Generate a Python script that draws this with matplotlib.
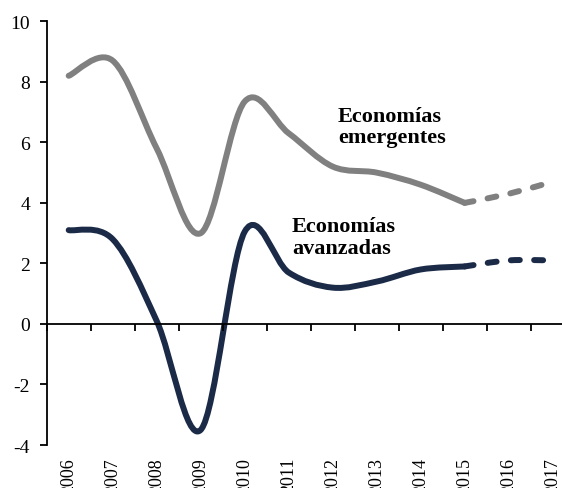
import numpy as np
import matplotlib
matplotlib.use('Agg')
import matplotlib.pyplot as plt
from matplotlib.path import Path
from matplotlib.patches import PathPatch
from matplotlib.transforms import blended_transform_factory

plt.rcParams['font.family'] = 'serif'
plt.rcParams['font.serif'] = ['Liberation Serif', 'Times New Roman', 'DejaVu Serif']
plt.rcParams['axes.unicode_minus'] = False

years = [2006, 2007, 2008, 2009, 2010, 2011, 2012, 2013, 2014, 2015, 2016, 2017]
emergentes = [8.2, 8.7, 5.8, 3.0, 7.35, 6.3, 5.2, 5.0, 4.6, 4.0, 4.3, 4.7]
avanzadas = [3.1, 2.8, 0.1, -3.5, 3.05, 1.7, 1.2, 1.4, 1.8, 1.9, 2.1, 2.1]
corte = 2015  # desde aquí, proyección (línea discontinua)

gris = '#808080'
azul = '#1b2a47'


def smooth_path(xs, ys):
    # curva suave tipo Excel (Catmull-Rom como Bezier cúbico)
    p = np.column_stack([xs, ys]).astype(float)
    n = len(p)
    verts = [p[0]]
    codes = [Path.MOVETO]
    for i in range(n - 1):
        p0 = p[max(i - 1, 0)]
        p1 = p[i]
        p2 = p[i + 1]
        p3 = p[min(i + 2, n - 1)]
        c1 = p1 + (p2 - p0) / 6.0
        c2 = p2 - (p3 - p1) / 6.0
        verts += [c1, c2, p2]
        codes += [Path.CURVE4] * 3
    return Path(verts, codes)


fig = plt.figure(figsize=(5.62, 4.89), dpi=100)
ax = fig.add_axes([0.0831, 0.0879, 0.9395, 0.8665])

k = years.index(corte)
for serie, color in [(emergentes, gris), (avanzadas, azul)]:
    solid = PathPatch(smooth_path(years[:k + 1], serie[:k + 1]), fill=False,
                      edgecolor=color, lw=4.3, capstyle='round', joinstyle='round')
    dashed = PathPatch(smooth_path(years[k:], serie[k:]), fill=False,
                       edgecolor=color, lw=4.3, capstyle='round',
                       linestyle=(0, (1.5, 2.4)))
    ax.add_patch(solid)
    ax.add_patch(dashed)

ax.set_xlim(2005.5, 2017.5)
ax.set_ylim(-4, 10)

ax.spines['top'].set_visible(False)
ax.spines['right'].set_visible(False)
ax.spines['bottom'].set_position(('data', 0))
ax.spines['left'].set_linewidth(1.3)
ax.spines['bottom'].set_linewidth(1.3)

ax.set_yticks(range(-4, 11, 2))
ax.tick_params(axis='y', direction='out', length=5, width=1.3, labelsize=14, pad=7)
ax.set_xticks(np.arange(2005.5, 2018, 1))
ax.set_xticklabels([])
ax.tick_params(axis='x', direction='out', length=5, width=1.3)

trans = blended_transform_factory(ax.transData, ax.transAxes)
for y in years:
    ax.text(y, -0.028, str(y), rotation=90, ha='center', va='top',
            fontsize=13, transform=trans, clip_on=False)

ax.text(2012.12, 6.52, 'Economías\nemergentes', fontsize=16, fontweight='bold',
        ha='left', va='center', linespacing=1.1)
ax.text(2011.07, 2.87, 'Economías\navanzadas', fontsize=16, fontweight='bold',
        ha='left', va='center', linespacing=1.1)

fig.savefig('out.png', dpi=100)
